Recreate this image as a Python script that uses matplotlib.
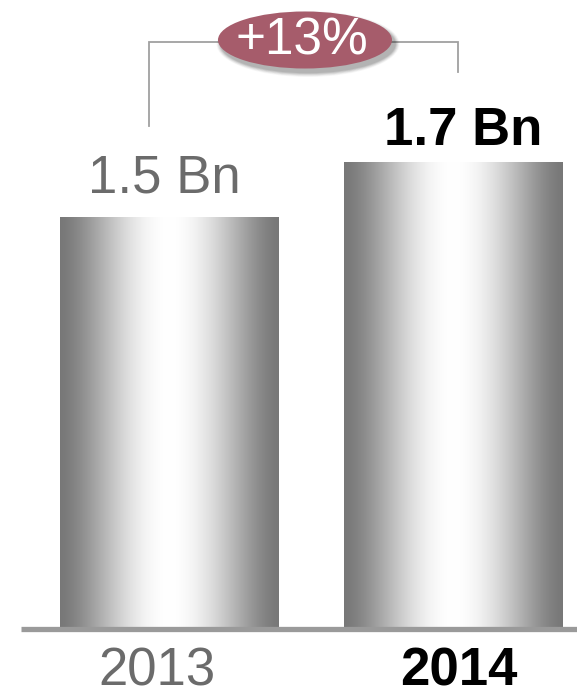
import numpy as np
import matplotlib
matplotlib.use("Agg")
import matplotlib.pyplot as plt
from matplotlib.colors import LinearSegmentedColormap
from matplotlib.patches import Rectangle, Ellipse

plt.rcParams['font.family'] = ['Liberation Sans', 'DejaVu Sans']

# Data
years = ["2013", "2014"]
values = [1.5, 1.7]
value_labels = ["1.5 Bn", "1.7 Bn"]
growth_label = "+13%"

W, H, DPI = 577, 688, 100
fig = plt.figure(figsize=(W / DPI, H / DPI), dpi=DPI)

# Axes geometry (pixels): baseline at y=627, 273.5 px per billion, 283.5 px between bars
base_px = 627
y_scale = 273.5
x_scale = 283.5
x0_px = 169.5
ax = fig.add_axes([0, (H - base_px) / H, 1, base_px / H])
ax.axis('off')

# Cylinder-like grey shading across each bar
t = np.linspace(0, 1, 64)
lum = 0.47 + 0.53 * np.cos(np.pi * (t - 0.5)) ** 1.5
shade = LinearSegmentedColormap.from_list("cyl", [(ti, (l, l, l)) for ti, l in zip(t, lum)])
grad = np.linspace(0, 1, 512).reshape(1, -1)

bar_w = 219 / x_scale
xs = np.arange(len(years))
bars = ax.bar(xs, values, width=bar_w, color='none', edgecolor='none')
for b in bars:
    x, y = b.get_x(), b.get_y()
    w, h = b.get_width(), b.get_height()
    im = ax.imshow(grad, cmap=shade, aspect='auto', extent=[x, x + w, y, y + h],
                   interpolation='bilinear', zorder=2)
    clip = Rectangle((x, y), w, h, transform=ax.transData, facecolor='none', edgecolor='none')
    ax.add_patch(clip)
    im.set_clip_path(clip)
ax.set_xlim(-x0_px / x_scale, (W - x0_px) / x_scale)
ax.set_ylim(0, base_px / y_scale)

# Baseline
ax.plot([(21 - x0_px) / x_scale, (W - x0_px) / x_scale], [-0.009, -0.009],
        color='#9a9a9a', lw=3.8, solid_capstyle='butt', zorder=3, clip_on=False)

# Value labels above bars
label_styles = [dict(color='#6b6b6b', fontweight='normal', fontsize=38),
                dict(color='black', fontweight='bold', fontsize=38)]
label_dx = [-0.02, 0.037]
label_dy = [0.09, 0.062]
for i, (v, txt) in enumerate(zip(values, value_labels)):
    ax.text(xs[i] + label_dx[i], v + label_dy[i], txt, ha='center', va='baseline',
            zorder=4, **label_styles[i])

# Year labels below baseline
year_dx = [-0.045, 0.02]
for i, yr in enumerate(years):
    ax.text(xs[i] + year_dx[i], -(686 - base_px) / y_scale, yr, ha='center', va='baseline',
            zorder=4, clip_on=False, **label_styles[i])

# Growth bracket
top_y = (base_px - 42) / y_scale
left_x = xs[0] - 20.5 / x_scale
right_x = xs[1] + 5 / x_scale
ax.plot([left_x, left_x, right_x, right_x],
        [values[0] + 0.33, top_y, top_y, values[1] + 0.33],
        color='#a0a0a0', lw=1.3, zorder=3, solid_joinstyle='miter')

# Growth badge with soft shadow
cx, cy = (305 - x0_px) / x_scale, (base_px - 40) / y_scale
ew, eh = 174 / x_scale, 57 / y_scale
for k, a in zip(range(6, 0, -1), [0.03, 0.04, 0.05, 0.06, 0.07, 0.08]):
    ax.add_patch(Ellipse((cx + 3 / x_scale, cy - 4 / y_scale), ew + k * 1.5 / x_scale,
                         eh + k * 1.5 / y_scale, facecolor='black', edgecolor='none',
                         alpha=a, zorder=4))
ax.add_patch(Ellipse((cx, cy), ew, eh, facecolor='#a65c6b', edgecolor='none', zorder=5))
ax.text(cx - 3 / x_scale, cy - 1 / y_scale, growth_label, ha='center', va='center',
        color='white', fontsize=37, zorder=6)

fig.savefig("out.png", dpi=DPI)
